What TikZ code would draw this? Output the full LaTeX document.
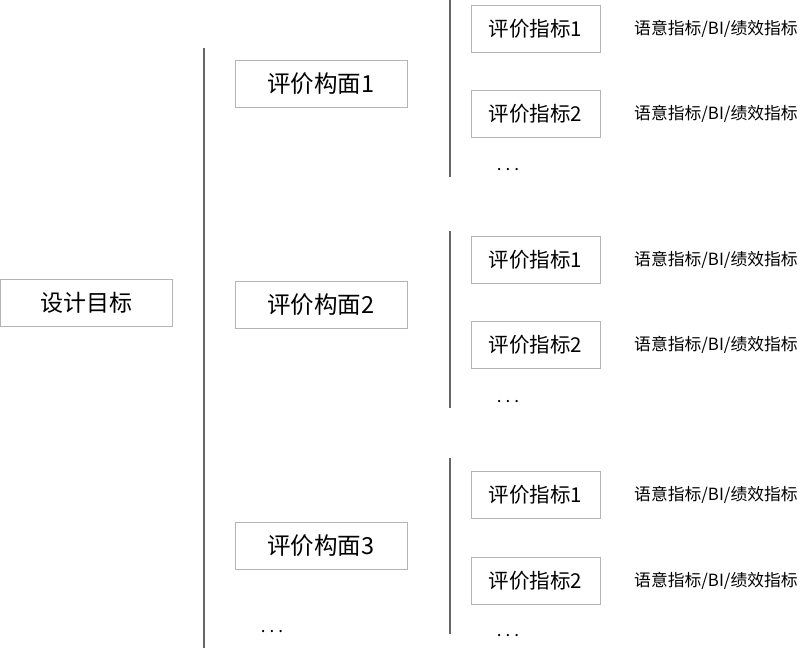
\documentclass[tikz,border=0pt]{standalone}
\usepackage{fontspec}
\setmainfont{Noto Sans CJK SC}
\begin{document}
\begin{tikzpicture}[x=1pt,y=-1pt,
  box/.style={draw=boxgray,line width=1pt,inner sep=0pt,anchor=center},
  vline/.style={draw=linegray,line width=2pt},
  note/.style={anchor=west,inner sep=0pt,font=\fontsize{16.8}{16.8}\selectfont},
  dots/.style={inner sep=0pt,font=\fontsize{17}{17}\selectfont}]
\definecolor{boxgray}{HTML}{B4B4B4}
\definecolor{linegray}{HTML}{666666}
\useasboundingbox[fill=white] (0,0) rectangle (800,648);
% root
\node[box,minimum width=172pt,minimum height=47pt,font=\fontsize{23}{23}\selectfont] (goal) at (86,303) {设计目标};
% dimensions
\foreach \i/\y in {1/84,2/305,3/546}{
  \node[box,minimum width=172pt,minimum height=47pt,font=\fontsize{23.5}{23.5}\selectfont] (dim\i) at (321,\y) {评价构面\i};
}
\node[dots] (dimdots) at (272,632) {.\hspace{4pt}.\hspace{4pt}.};
% vertical line for dimensions
\coordinate (l0t) at (204,48);
\coordinate (l0b) at (204,648);
\draw[vline] (l0t) -- (l0b);
% indicator groups
\foreach \g/\ya/\yb/\yd/\lt/\lb in {1/28.5/113.5/170/0/177,2/259.5/345/402/231/408,3/494.5/580.5/636/458/634}{
  \coordinate (g\g t) at (450,\lt);
  \coordinate (g\g b) at (450,\lb);
  \draw[vline] (g\g t) -- (g\g b);
  \node[box,minimum width=129pt,minimum height=47pt,font=\fontsize{20.5}{20.5}\selectfont] (ind\g a) at (535.5,\ya) {评价指标1};
  \node[box,minimum width=129pt,minimum height=47pt,font=\fontsize{20.5}{20.5}\selectfont] (ind\g b) at (535.5,\yb) {评价指标2};
  \node[dots] (ind\g d) at (508,\yd) {.\hspace{4pt}.\hspace{4pt}.};
  \node[note] (note\g a) at (634,\ya) {语意指标/BI/绩效指标};
  \node[note] (note\g b) at (634,\yb) {语意指标/BI/绩效指标};
}
\end{tikzpicture}
\end{document}
